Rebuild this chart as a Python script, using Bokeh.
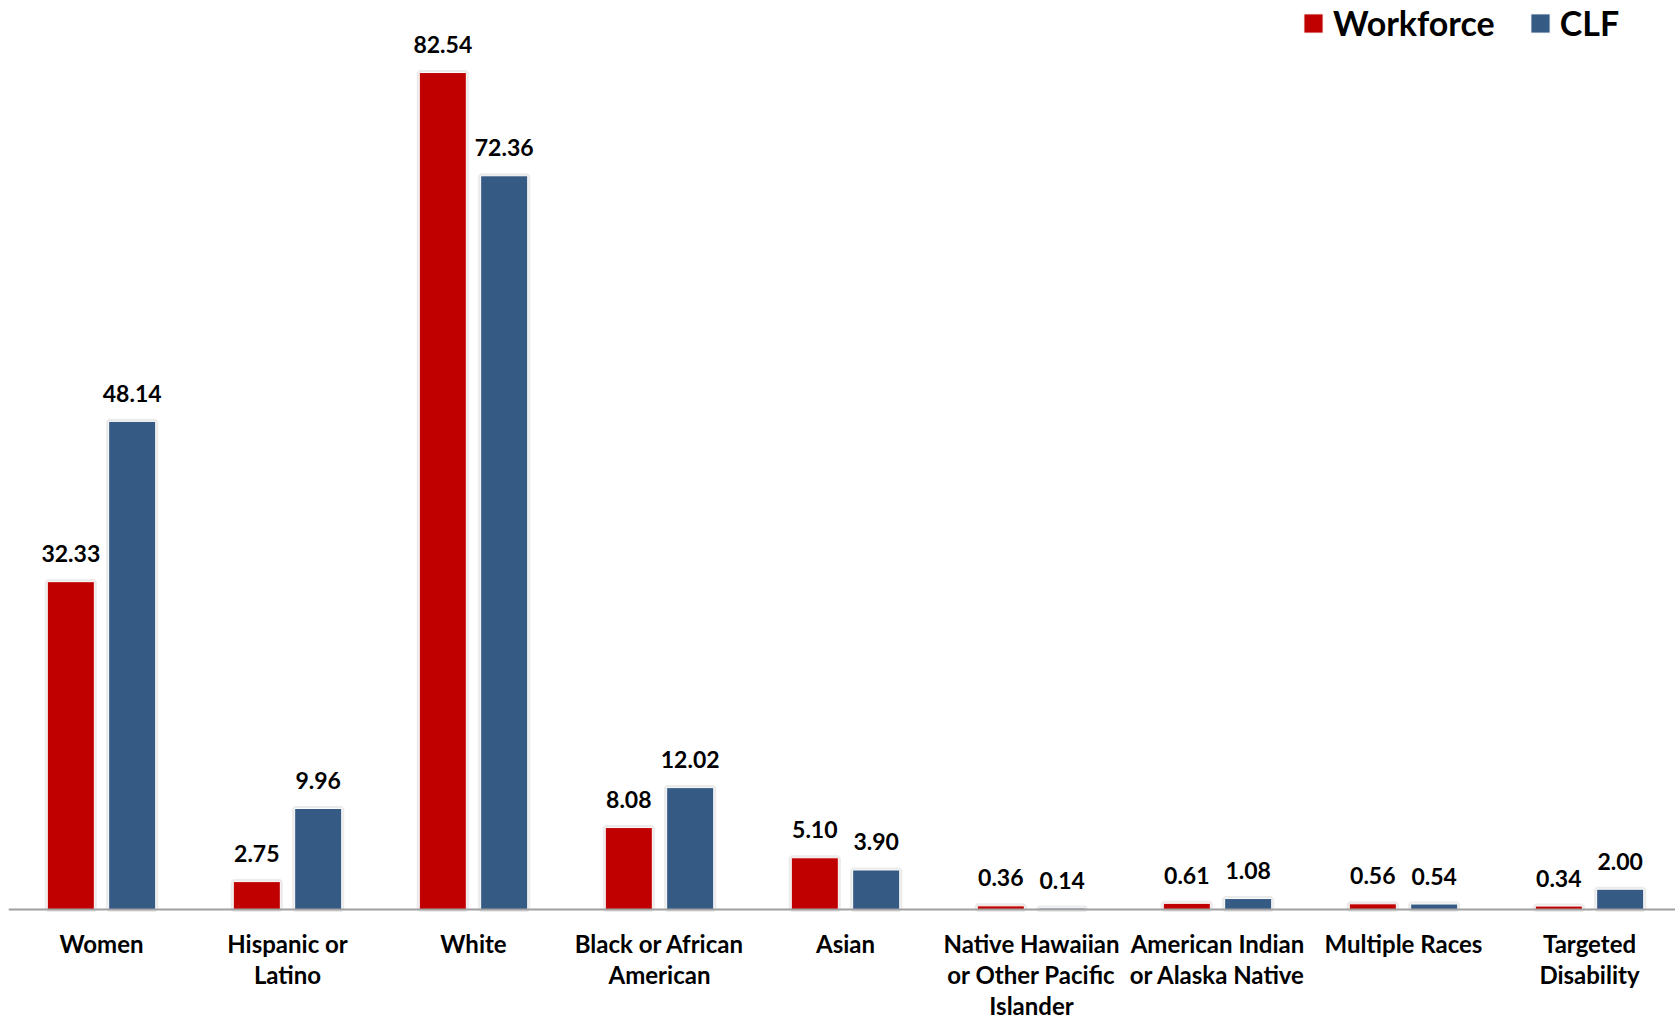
from bokeh.plotting import figure
from bokeh.models import ColumnDataSource, Range1d, Legend, LegendItem, LabelSet, Span
from bokeh.transform import dodge
from bokeh.core.properties import value
from bokeh.embed import file_html
from bokeh.resources import INLINE

categories = ["Women", "Hispanic or Latino", "White", "Black or African American", "Asian",
              "Native Hawaiian or Other Pacific Islander", "American Indian or Alaska Native",
              "Multiple Races", "Targeted Disability"]
tick_labels = ["Women", "Hispanic or\nLatino", "White", "Black or African\nAmerican", "Asian",
               "Native Hawaiian\nor Other Pacific\nIslander", "American Indian\nor Alaska Native",
               "Multiple Races", "Targeted\nDisability"]
workforce = [32.33, 2.75, 82.54, 8.08, 5.10, 0.36, 0.61, 0.56, 0.34]
clf = [48.14, 9.96, 72.36, 12.02, 3.90, 0.14, 1.08, 0.54, 2.00]

RED = "#C00000"
BLUE = "#355A84"
FONT = "Lato"

idx = list(range(len(categories)))
src = ColumnDataSource(dict(
    x=idx,
    cat=categories,
    wf=workforce,
    clf=clf,
    wf_lbl=["%.2f" % v for v in workforce],
    clf_lbl=["%.2f" % v for v in clf],
))

# category label lines (drawn below the baseline)
lx, lt, lo, ly = [], [], [], []
for i, lab in enumerate(tick_labels):
    for j, line in enumerate(lab.split("\n")):
        lx.append(i)
        lt.append(line)
        lo.append(-(34 + 31 * j))
        ly.append(0)
lsrc = ColumnDataSource(dict(x=lx, y=ly, text=lt, off=lo))

W, H = 1675, 1021
FRAME_W = W - 8
SPACING = 186.0
PX_PER_UNIT = 10.14
BASE = 909  # pixel row of the zero line
p = figure(x_range=Range1d(-0.5, -0.5 + FRAME_W / SPACING),
           y_range=Range1d(-(H - BASE) / PX_PER_UNIT, BASE / PX_PER_UNIT),
           width=W, height=H, output_backend="svg", toolbar_location=None,
           min_border_left=8, min_border_right=0, min_border_top=0, min_border_bottom=0)
p.outline_line_color = None
p.grid.visible = False
p.xaxis.visible = False
p.yaxis.visible = False

off = 0.165
bw = 0.253
# soft shadows
for col, o in (("wf", -off), ("clf", off)):
    p.vbar(x=dodge("x", o), top=col, width=bw, bottom=0, source=src,
           fill_color="#b0b0b0", fill_alpha=0.35, line_color="#b0b0b0", line_alpha=0.25, line_width=5)

r1 = p.vbar(x=dodge("x", -off), top="wf", width=bw, source=src,
            fill_color=RED, line_color="white", line_width=1)
r2 = p.vbar(x=dodge("x", off), top="clf", width=bw, source=src,
            fill_color=BLUE, line_color="white", line_width=1)

p.add_layout(Span(location=0, dimension="width", line_color="#a0a0a0", line_width=2))

for col, lbl, o in (("wf", "wf_lbl", -off), ("clf", "clf_lbl", off)):
    p.text(x=dodge("x", o), y=col, text=lbl, source=src,
           text_font=value(FONT), text_font_style="bold", text_font_size="23px",
           text_align="center", text_baseline="middle", y_offset=-28, text_color="black")

labels = LabelSet(x="x", y="y", text="text", y_offset="off", source=lsrc,
                  text_font=value(FONT), text_font_style="bold", text_font_size="24px",
                  text_align="center", text_baseline="middle", text_color="black")
p.add_layout(labels)

legend = Legend(items=[LegendItem(label="Workforce", renderers=[r1]),
                       LegendItem(label="CLF", renderers=[r2])],
                orientation="horizontal", location=(1293, H - 43),
                label_text_font=FONT, label_text_font_style="bold", label_text_font_size="34px",
                label_text_color="black",
                glyph_width=24, glyph_height=24, label_standoff=8, spacing=33,
                padding=0, margin=0, border_line_color=None, background_fill_alpha=0)
p.add_layout(legend)

open("out.html", "w").write(file_html(p, INLINE))
